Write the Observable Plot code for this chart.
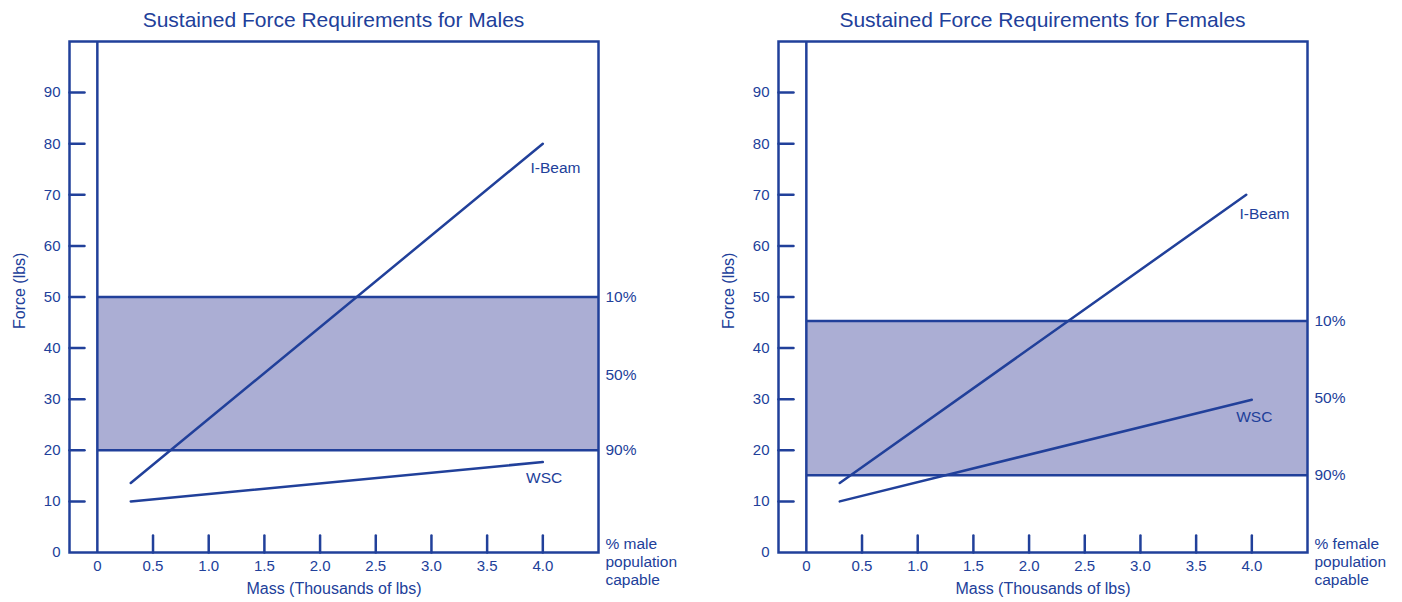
<!DOCTYPE html>
<html>
<head>
<meta charset="utf-8">
<script src="https://cdn.jsdelivr.net/npm/d3@7"></script>
<script src="https://cdn.jsdelivr.net/npm/@observablehq/plot@0.6"></script>
<style>
  body { margin: 0; background: #fff; font-family: "Liberation Sans", Arial, sans-serif; }
  #wrap { display: flex; width: 1402px; height: 602px; overflow: hidden; }
  .chart { position: relative; width: 701px; }
  .title { height: 32px; line-height: 40px; font-size: 21px; color: #21409a; text-align: center; white-space: nowrap; }
  svg { display: block; }
</style>
</head>
<body>
<div id="wrap"></div>
<script>
// ---- data ----
const titles = ["Sustained Force Requirements for Males", "Sustained Force Requirements for Females"];
const footLabels = ["% male\npopulation\ncapable", "% female\npopulation\ncapable"];
const xAxisLabel = "Mass (Thousands of lbs)";
const yAxisLabel = "Force (lbs)";

const massTickValues = [0, 0.5, 1.0, 1.5, 2.0, 2.5, 3.0, 3.5, 4.0];
const massTickLabels = ["0", "0.5", "1.0", "1.5", "2.0", "2.5", "3.0", "3.5", "4.0"];
const massTickMarks = [0.5, 1.0, 1.5, 2.0, 2.5, 3.0, 3.5, 4.0];
const forceTickValues = [0, 10, 20, 30, 40, 50, 60, 70, 80, 90];
const forceTickMarks = [10, 20, 30, 40, 50, 60, 70, 80, 90];

const seriesNames = ["I-Beam", "WSC"];
// males
const maleIBeamMass = [0.3, 4.0];
const maleIBeamForce = [13.6, 80];
const maleWSCMass = [0.3, 4.0];
const maleWSCForce = [10, 17.7];
const maleBand = [20, 50];              // 90% .. 10%
const malePctLabels = ["10%", "50%", "90%"];
const malePctForce = [50, 34.8, 20];
const maleLabelMass = [3.89, 3.85];
const maleLabelForce = [75.2, 14.6];
// females
const femaleIBeamMass = [0.3, 3.95];
const femaleIBeamForce = [13.6, 70];
const femaleWSCMass = [0.3, 4.0];
const femaleWSCForce = [10, 29.9];
const femaleBand = [15.1, 45.3];
const femalePctLabels = ["10%", "50%", "90%"];
const femalePctForce = [45.3, 30.2, 15.1];
const femaleLabelMass = [3.89, 3.86];
const femaleLabelForce = [66.2, 26.6];

const xDomain = [-0.25, 4.5];
const yDomain = [0, 100];

const BLUE = "#21409a";
const BAND = "#abaed4";

const tickShape = { draw(context, l) { context.moveTo(0, 0); context.lineTo(0, -l); } };

function pts(xs, ys) { return xs.map((x, i) => ({mass: x, force: ys[i]})); }

function makeChart(cfg) {
  const band = [{lo: cfg.band[0], hi: cfg.band[1]}];
  const labels = seriesNames.map((s, i) => ({name: s, mass: cfg.labelMass[i], force: cfg.labelForce[i]}));
  const pct = cfg.pctLabels.map((t, i) => ({t, force: cfg.pctForce[i]}));
  return Plot.plot({
    width: 701,
    height: 570,
    marginTop: 9,
    marginBottom: 50,
    marginLeft: cfg.marginLeft,
    marginRight: cfg.marginRight,
    style: {fontFamily: "'Liberation Sans', Arial, sans-serif", color: BLUE, background: "white", overflow: "visible"},
    x: {domain: xDomain},
    y: {domain: yDomain},
    marks: [
      Plot.rect(band, {x1: 0, x2: xDomain[1], y1: "lo", y2: "hi", fill: BAND}),
      Plot.ruleY(cfg.band, {x1: 0, x2: xDomain[1], stroke: BLUE, strokeWidth: 2.5}),
      Plot.ruleX([0], {stroke: BLUE, strokeWidth: 2.5}),
      Plot.frame({stroke: BLUE, strokeWidth: 2.5}),
      Plot.vector(forceTickMarks, {y: d => d, frameAnchor: "left", length: 15, rotate: 90, anchor: "start", shape: tickShape, stroke: BLUE, strokeWidth: 2.5}),
      Plot.vector(massTickMarks, {x: d => d, frameAnchor: "bottom", length: 17, rotate: 0, anchor: "start", shape: tickShape, stroke: BLUE, strokeWidth: 2.5}),
      Plot.axisY({ticks: forceTickValues, tickSize: 0, tickPadding: 9, fontSize: 15, label: null, fill: BLUE}),
      Plot.axisX({ticks: massTickValues, tickFormat: (d) => massTickLabels[massTickValues.indexOf(d)], tickSize: 0, tickPadding: 8, fontSize: 15, label: null, fill: BLUE}),
      Plot.line(pts(cfg.ibMass, cfg.ibForce), {x: "mass", y: "force", stroke: BLUE, strokeWidth: 2.5}),
      Plot.line(pts(cfg.wscMass, cfg.wscForce), {x: "mass", y: "force", stroke: BLUE, strokeWidth: 2.5}),
      Plot.text(labels, {x: "mass", y: "force", text: "name", textAnchor: "start", fill: BLUE, fontSize: 15.5}),
      Plot.text(pct, {x: () => xDomain[1], y: "force", text: "t", textAnchor: "start", dx: 7, fill: BLUE, fontSize: 15.5}),
      Plot.text([cfg.foot], {frameAnchor: "bottom-right", textAnchor: "start", lineAnchor: "top", dx: 7, dy: -17, lineHeight: 1.19, fill: BLUE, fontSize: 15.5}),
      Plot.text([xAxisLabel], {frameAnchor: "bottom", dy: 41, fill: BLUE, fontSize: 16}),
      Plot.text([yAxisLabel], {frameAnchor: "left", rotate: -90, dx: -50, dy: 32, fill: BLUE, fontSize: 16})
    ]
  });
}

const cfgs = [
  {title: titles[0], foot: footLabels[0], marginLeft: 69, marginRight: 103,
   ibMass: maleIBeamMass, ibForce: maleIBeamForce, wscMass: maleWSCMass, wscForce: maleWSCForce,
   band: maleBand, pctLabels: malePctLabels, pctForce: malePctForce, labelMass: maleLabelMass, labelForce: maleLabelForce},
  {title: titles[1], foot: footLabels[1], marginLeft: 77, marginRight: 95,
   ibMass: femaleIBeamMass, ibForce: femaleIBeamForce, wscMass: femaleWSCMass, wscForce: femaleWSCForce,
   band: femaleBand, pctLabels: femalePctLabels, pctForce: femalePctForce, labelMass: femaleLabelMass, labelForce: femaleLabelForce}
];

const wrap = document.getElementById("wrap");
for (const cfg of cfgs) {
  const div = document.createElement("div");
  div.className = "chart";
  const t = document.createElement("div");
  t.className = "title";
  t.textContent = cfg.title;
  t.style.paddingLeft = cfg.marginLeft + "px";
  t.style.width = (701 - cfg.marginLeft - cfg.marginRight) + "px";
  div.appendChild(t);
  div.appendChild(makeChart(cfg));
  wrap.appendChild(div);
}
</script>
</body>
</html>
